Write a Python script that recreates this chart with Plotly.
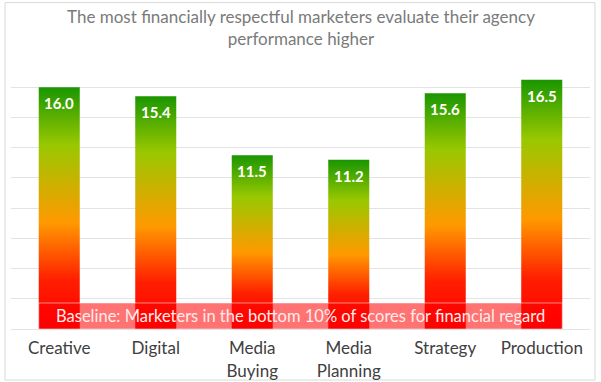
import plotly.graph_objects as go

categories = ["Creative", "Digital", "Media<br>Buying", "Media<br>Planning", "Strategy", "Production"]
values = [16.0, 15.4, 11.5, 11.2, 15.6, 16.5]
value_labels = ["16.0", "15.4", "11.5", "11.2", "15.6", "16.5"]
y_ticks = [0, 2, 4, 6, 8, 10, 12, 14, 16, 18]
baseline_value = 1.72
baseline_text = "Baseline: Marketers in the bottom 10% of scores for financial regard"
title_text = "The most financially respectful marketers evaluate their agency<br>performance higher"

FONT = "Century Gothic, Lato, sans-serif"
BAR_W = 0.425
grad = [[0.0, "#ff0000"], [0.2, "#ff1e00"], [0.44, "#ff9900"], [0.76, "#99c800"], [1.0, "#1a9600"]]

fig = go.Figure()
xs = list(range(len(categories)))
for i, v in zip(xs, values):
    fig.add_trace(go.Scatter(
        x=[i - BAR_W / 2, i + BAR_W / 2, i + BAR_W / 2, i - BAR_W / 2, i - BAR_W / 2],
        y=[0, 0, v, v, 0],
        mode="lines", line=dict(width=0), fill="toself",
        fillgradient=dict(type="vertical", colorscale=grad),
        hoverinfo="skip", showlegend=False,
    ))

for i, v, t in zip(xs, values, value_labels):
    fig.add_annotation(x=i, y=v, xref="x", yref="y", yanchor="top", yshift=-5,
                       text=t, showarrow=False,
                       font=dict(family=FONT, size=15, color="white", weight="bold"))

# baseline band
fig.add_shape(type="rect", xref="x", yref="y",
              x0=xs[0] - BAR_W / 2, x1=xs[-1] + BAR_W / 2, y0=0, y1=baseline_value,
              fillcolor="rgba(255,0,0,0.55)", line=dict(color="rgba(255,255,255,0.5)", width=1),
              layer="above")
fig.add_annotation(x=(xs[0] + xs[-1]) / 2, y=baseline_value / 2, xref="x", yref="y",
                   text=baseline_text, showarrow=False,
                   font=dict(family=FONT, size=16.5, color="#ffecec"))

# title
fig.add_annotation(x=0.5, y=1.1066 + 1 / 272, xref="paper", yref="paper", yanchor="middle",
                   text=title_text, showarrow=False,
                   font=dict(family=FONT, size=17, color="#7a7a7a"))

# outer frame
fig.add_shape(type="rect", xref="paper", yref="paper",
              x0=-0.0103, x1=1.0086, y0=-0.1875, y1=1.2, line=dict(color="#d9d9d9", width=1),
              layer="below")

fig.update_layout(
    width=601, height=382,
    margin=dict(l=11, r=11, t=57, b=53, autoexpand=False),
    paper_bgcolor="white", plot_bgcolor="white",
    xaxis=dict(type="linear", range=[-0.5, 5.5], tickvals=xs, ticktext=categories,
               showgrid=False, zeroline=False, showline=False,
               ticks="outside", ticklen=4, tickcolor="rgba(0,0,0,0)", automargin=False,
               tickfont=dict(family=FONT, size=17, color="#404040"), fixedrange=True),
    yaxis=dict(range=[0, 18], tickvals=y_ticks, showticklabels=False, automargin=False,
               showgrid=True, gridcolor="#e3e3e3", gridwidth=1,
               zeroline=True, zerolinecolor="#e3e3e3", zerolinewidth=1, fixedrange=True),
)

fig.write_html("out.html", config={"displayModeBar": False},
               post_script="document.body.style.margin='0';")
